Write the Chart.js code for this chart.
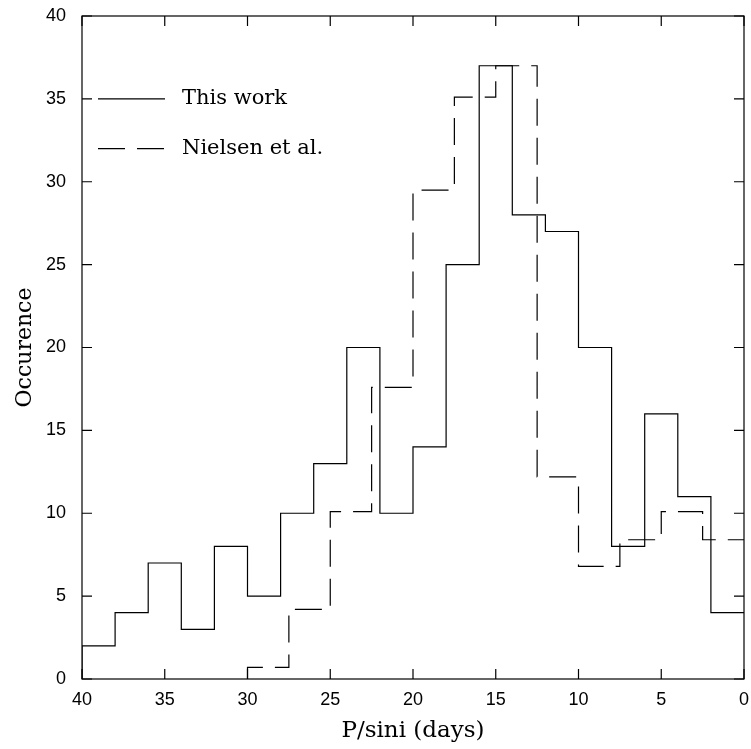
<!DOCTYPE html>
<html>
<head>
<meta charset="utf-8">
<title>P/sini histogram</title>
<script src="https://cdn.jsdelivr.net/npm/chart.js@4"></script>
<style>
  html, body { margin: 0; padding: 0; background: #fff; }
  #wrap { width: 751px; height: 749px; position: relative; }
</style>
</head>
<body>
<div id="wrap"><canvas id="hist"></canvas></div>
<script>
// bin edges (days) and counts
const thisWorkEdges = [40, 38, 36, 34, 32, 30, 28, 26, 24, 22, 20, 18, 16, 14, 12, 10, 8, 6, 4, 2, 0];
const thisWorkCounts = [2, 4, 7, 3, 8, 5, 10, 13, 20, 10, 14, 25, 37, 28, 27, 20, 8, 16, 11, 4];
const nielsenEdges = [30, 27.5, 25, 22.5, 20, 17.5, 15, 12.5, 10, 7.5, 5, 2.5, 0];
const nielsenCounts = [0.7, 4.2, 10.1, 17.6, 29.5, 35.1, 37, 12.2, 6.8, 8.4, 10.1, 8.4];
const seriesLabels = ['This work', 'Nielsen et al.'];
const xTickStep = 5;
const yTickStep = 5;

const SERIF = '"DejaVu Serif", "Liberation Serif", serif';
const DASH = [27, 12];

// histogram outline: start on the axis, then one point per bin end
function stepPoints(edges, counts) {
    const pts = [{ x: edges[0], y: 0 }];
    counts.forEach((c, i) => pts.push({ x: edges[i + 1], y: c }));
    return pts;
}

// frame, inward ticks on all four sides, and the in-plot key
const framePlugin = {
    id: 'frame',
    afterDraw(chart) {
        const { ctx, chartArea: a, scales: { x, y } } = chart;
        const len = 10;
        ctx.save();
        ctx.strokeStyle = '#000';
        ctx.lineWidth = 1.2;
        ctx.strokeRect(a.left, a.top, a.right - a.left, a.bottom - a.top);
        ctx.beginPath();
        x.ticks.forEach(t => {
            const px = x.getPixelForValue(t.value);
            ctx.moveTo(px, a.bottom); ctx.lineTo(px, a.bottom - len);
            ctx.moveTo(px, a.top); ctx.lineTo(px, a.top + len);
        });
        y.ticks.forEach(t => {
            const py = y.getPixelForValue(t.value);
            ctx.moveTo(a.left, py); ctx.lineTo(a.left + len, py);
            ctx.moveTo(a.right, py); ctx.lineTo(a.right - len, py);
        });
        ctx.stroke();

        // key
        const x0 = a.left + 16, x1 = a.left + 83, tx = a.left + 100;
        const rows = [y.getPixelForValue(35), y.getPixelForValue(32)];
        ctx.font = '21px ' + SERIF;
        ctx.fillStyle = '#000';
        ctx.textBaseline = 'middle';
        ctx.textAlign = 'left';
        rows.forEach((ry, i) => {
            ctx.beginPath();
            ctx.setLineDash(i === 0 ? [] : DASH);
            ctx.moveTo(x0, ry); ctx.lineTo(x1, ry);
            ctx.stroke();
            ctx.fillText(seriesLabels[i], tx, ry);
        });
        ctx.restore();
    }
};

Chart.defaults.font.family = '"Liberation Sans", Arial, sans-serif';
Chart.defaults.color = '#000';

new Chart(document.getElementById('hist'), {
    type: 'line',
    data: {
        datasets: [
            { label: seriesLabels[0], data: stepPoints(thisWorkEdges, thisWorkCounts), stepped: 'after',
              borderColor: '#000', borderWidth: 1.2, pointRadius: 0, fill: false },
            { label: seriesLabels[1], data: stepPoints(nielsenEdges, nielsenCounts), stepped: 'after',
              borderColor: '#000', borderWidth: 1.2, borderDash: DASH, pointRadius: 0, fill: false }
        ]
    },
    options: {
        responsive: true,
        maintainAspectRatio: false,
        animation: false,
        layout: { padding: { top: 16, right: 7, left: 0, bottom: 0 } },
        plugins: { legend: { display: false }, tooltip: { enabled: false } },
        scales: {
            x: {
                type: 'linear', min: 0, max: 40, reverse: true,
                grid: { display: false, drawTicks: false },
                border: { display: false },
                ticks: { stepSize: xTickStep, padding: 10, maxRotation: 0, font: { size: 18 } },
                title: { display: true, text: 'P/sini (days)', font: { family: SERIF, size: 23 }, padding: { bottom: 4 } },
                afterFit(scale) { scale.height = 70; scale.paddingLeft = 0; scale.paddingRight = 0; }
            },
            y: {
                min: 0, max: 40,
                grid: { display: false, drawTicks: false },
                border: { display: false },
                ticks: { stepSize: yTickStep, padding: 16, font: { size: 18 } },
                title: { display: true, text: 'Occurence', font: { family: SERIF, size: 22 }, padding: { top: 12 } },
                afterFit(scale) { scale.width = 82; scale.paddingTop = 0; scale.paddingBottom = 0; }
            }
        }
    },
    plugins: [framePlugin]
});
</script>
</body>
</html>
